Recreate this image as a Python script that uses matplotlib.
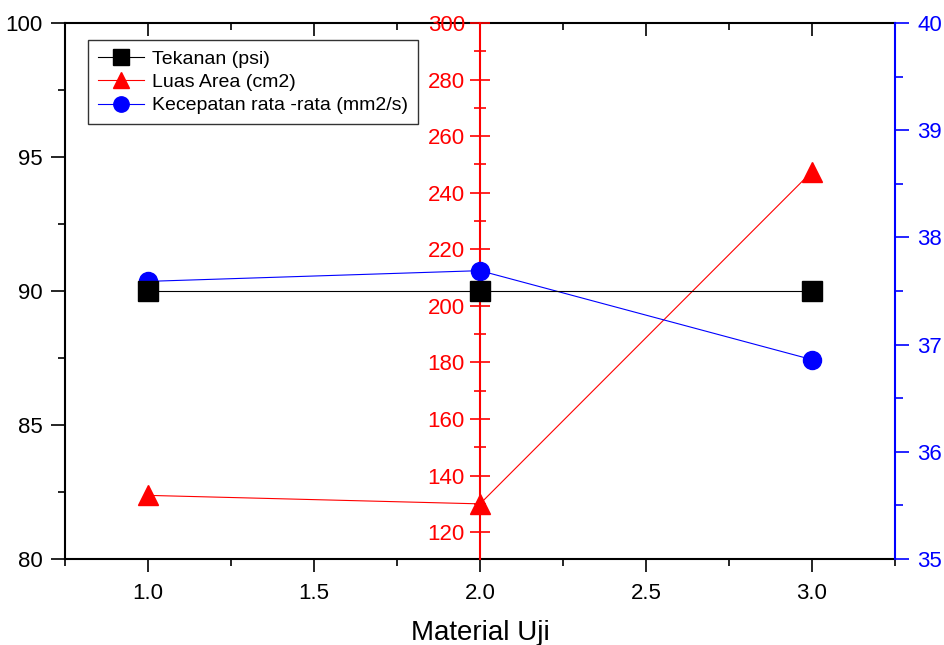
import matplotlib
matplotlib.use("Agg")
import matplotlib.pyplot as plt
from matplotlib.ticker import MultipleLocator

plt.rcParams['font.family'] = ['Liberation Sans', 'DejaVu Sans']

x = [1.0, 2.0, 3.0]
tekanan = [90.0, 90.0, 90.0]
luas_area = [133.0, 130.0, 247.5]
kecepatan = [37.59, 37.69, 36.86]

labels = ["Tekanan (psi)", "Luas Area (cm2)", "Kecepatan rata -rata (mm2/s)"]
xlabel = "Material Uji"

fig = plt.figure(figsize=(9.45, 6.45), dpi=100)
pos = [0.0688, 0.1333, 0.8783, 0.8310]
ax = fig.add_axes(pos)          # black frame, left axis, x axis
ax4 = ax.twiny()                # inward top ticks
ax2 = ax.twinx()                # red axis at x = 2.0
ax3 = ax.twinx()                # blue right axis
ax5 = fig.add_axes(pos, sharex=ax, sharey=ax)  # black data on top

ax.set_zorder(1)
ax4.set_zorder(1.5)
ax2.set_zorder(2)
ax3.set_zorder(3)
ax5.set_zorder(4)
for a in (ax2, ax3, ax4, ax5):
    a.patch.set_visible(False)

fs = 16
# main (black) axis
ax.set_xlim(0.75, 3.25)
ax.set_ylim(80, 100)
ax.xaxis.set_minor_locator(MultipleLocator(0.25))
ax.yaxis.set_major_locator(MultipleLocator(5))
ax.yaxis.set_minor_locator(MultipleLocator(2.5))
ax.set_xticks([1.0, 1.5, 2.0, 2.5, 3.0])
ax.set_xticklabels(['1.0', '1.5', '2.0', '2.5', '3.0'])
ax.tick_params(axis='x', which='both', direction='out', top=False, labelsize=fs, width=1.2, pad=8)
ax.tick_params(axis='x', which='major', length=9)
ax.tick_params(axis='x', which='minor', length=5)
ax.tick_params(axis='y', which='both', direction='out', labelsize=fs, width=1.2, pad=6)
ax.tick_params(axis='y', which='major', length=10)
ax.tick_params(axis='y', which='minor', length=5)
ax.set_xlabel(xlabel, fontsize=20, labelpad=12)
for s in ['left', 'bottom', 'top']:
    ax.spines[s].set_linewidth(1.5)
ax.spines['right'].set_visible(False)

# top ticks inward
ax4.set_xlim(0.75, 3.25)
ax4.set_xticks([1.0, 1.5, 2.0, 2.5, 3.0])
ax4.xaxis.set_minor_locator(MultipleLocator(0.25))
ax4.tick_params(axis='x', which='both', direction='in', labeltop=False, width=1.2)
ax4.tick_params(axis='x', which='major', length=9)
ax4.tick_params(axis='x', which='minor', length=5)
ax4.tick_params(axis='y', which='both', left=False, right=False,
                labelleft=False, labelright=False)
for s in ['left', 'right', 'bottom', 'top']:
    ax4.spines[s].set_visible(False)

# black data overlay
l1, = ax5.plot(x, tekanan, color='black', lw=0.8, marker='s', markersize=14,
               markeredgecolor='black', label=labels[0])
ax5.axis('off')

# red axis at x = 2.0
l2, = ax2.plot(x, luas_area, color='red', lw=0.8, marker='^', markersize=14,
               markeredgecolor='red', label=labels[1])
ax2.set_ylim(110.5, 300)
ax2.set_yticks(range(120, 301, 20))
ax2.yaxis.set_minor_locator(MultipleLocator(10))
ax2.spines['left'].set_visible(True)
ax2.spines['left'].set_position(('data', 2.0))
ax2.spines['left'].set_color('red')
ax2.spines['left'].set_linewidth(1.5)
ax2.spines['right'].set_visible(False)
ax2.spines['top'].set_visible(False)
ax2.spines['bottom'].set_visible(False)
ax2.yaxis.set_ticks_position('left')
ax2.yaxis.set_label_position('left')
ax2.tick_params(axis='y', which='both', direction='inout', colors='red',
                labelsize=fs, width=1.2, pad=4)
ax2.tick_params(axis='y', which='major', length=14)
ax2.tick_params(axis='y', which='minor', length=8)

# blue right axis
l3, = ax3.plot(x, kecepatan, color='blue', lw=0.8, marker='o', markersize=13,
               markeredgecolor='blue', label=labels[2])
ax3.set_ylim(35, 40)
ax3.yaxis.set_major_locator(MultipleLocator(1))
ax3.yaxis.set_minor_locator(MultipleLocator(0.5))
ax3.spines['right'].set_color('blue')
ax3.spines['right'].set_linewidth(1.5)
for s in ['left', 'top', 'bottom']:
    ax3.spines[s].set_visible(False)
ax3.tick_params(axis='y', which='both', direction='out', colors='blue',
                labelsize=fs, width=1.2, pad=6)
ax3.tick_params(axis='y', which='major', length=10)
ax3.tick_params(axis='y', which='minor', length=6)

leg = ax5.legend(handles=[l1, l2, l3], loc='upper left',
                 bbox_to_anchor=(0.0277, 0.968), borderaxespad=0,
                 fontsize=14, frameon=True, fancybox=False, edgecolor='black',
                 handlelength=2.4, handletextpad=0.4, labelspacing=0.3,
                 borderpad=0.5, markerscale=0.85)
leg.get_frame().set_linewidth(1.0)

fig.savefig('out.png', dpi=100)
